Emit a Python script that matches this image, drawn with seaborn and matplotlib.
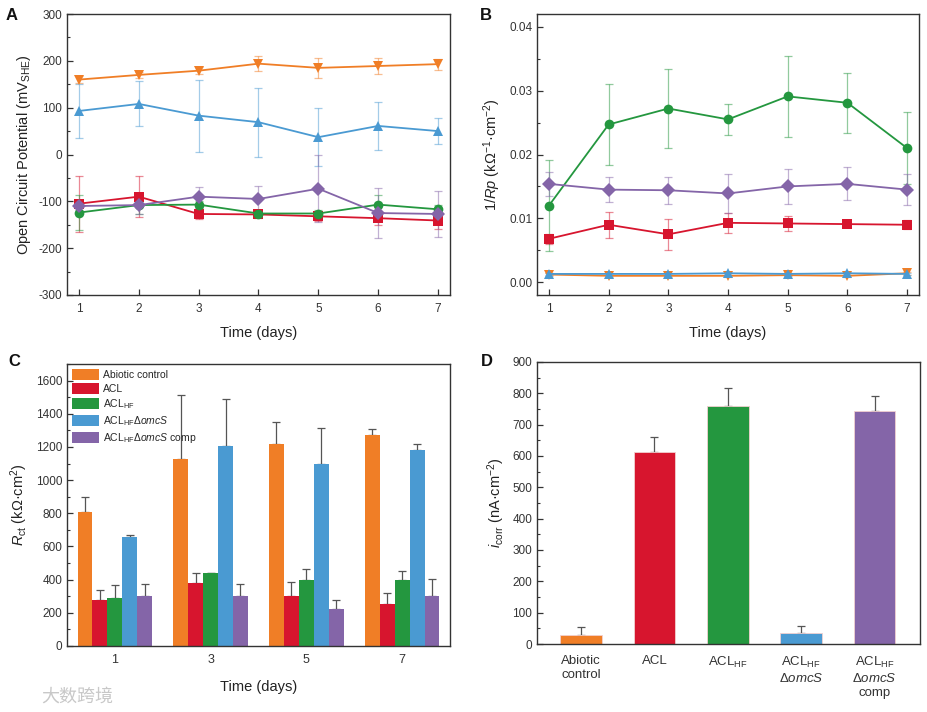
import numpy as np
import pandas as pd
import matplotlib
matplotlib.use("Agg")
import matplotlib.pyplot as plt
import seaborn as sns
from matplotlib.ticker import MultipleLocator
from matplotlib.patches import Patch

sns.set_theme(style="white")
plt.rcParams['font.family'] = ['Liberation Sans', 'DejaVu Sans']
plt.rcParams['mathtext.fontset'] = 'custom'
plt.rcParams['mathtext.rm'] = 'Liberation Sans'
plt.rcParams['mathtext.it'] = 'Liberation Sans:italic'
plt.rcParams['mathtext.bf'] = 'Liberation Sans:bold'
plt.rcParams['axes.unicode_minus'] = False

# ---------------- data ----------------
days = [1, 2, 3, 4, 5, 6, 7]
series = ["Abiotic control", "ACL", "ACL_HF", "ACL_HF_dOmcS", "ACL_HF_dOmcS_comp"]
colors = {"Abiotic control": "#F07E26", "ACL": "#D7152E", "ACL_HF": "#24973F",
          "ACL_HF_dOmcS": "#4A9AD2", "ACL_HF_dOmcS_comp": "#8465A8"}
markers = {"Abiotic control": "v", "ACL": "s", "ACL_HF": "o",
           "ACL_HF_dOmcS": "^", "ACL_HF_dOmcS_comp": "D"}

# Panel A: open circuit potential (mV SHE)
ocp_abiotic = [160, 170, 179, 194, 185, 189, 193]
ocp_abiotic_err = [8, 7, 8, 16, 21, 17, 12]
ocp_acl = [-105, -90, -127, -128, -132, -136, -141]
ocp_acl_err = [60, 44, 10, 8, 10, 15, 19]
ocp_aclhf = [-124, -108, -107, -126, -126, -107, -117]
ocp_aclhf_err = [38, 20, 8, 8, 8, 20, 10]
ocp_domcs = [93, 108, 83, 69, 37, 61, 50]
ocp_domcs_err = [58, 48, 77, 74, 62, 51, 28]
ocp_comp = [-110, -108, -90, -95, -73, -125, -127]
ocp_comp_err = [8, 20, 20, 28, 71, 53, 50]

# Panel B: 1/Rp (kOhm^-1 cm^-2)
rp_abiotic = [0.0012, 0.0010, 0.0010, 0.0010, 0.0011, 0.0010, 0.0014]
rp_abiotic_err = [0.0002, 0.0002, 0.0002, 0.0002, 0.0002, 0.0002, 0.0002]
rp_acl = [0.0068, 0.0090, 0.0075, 0.0093, 0.0092, 0.0091, 0.0090]
rp_acl_err = [0.0008, 0.0020, 0.0024, 0.0016, 0.0012, 0.0004, 0.0007]
rp_aclhf = [0.0120, 0.0247, 0.0272, 0.0255, 0.0291, 0.0281, 0.0210]
rp_aclhf_err = [0.0071, 0.0063, 0.0062, 0.0024, 0.0063, 0.0047, 0.0056]
rp_domcs = [0.0013, 0.0013, 0.0013, 0.0014, 0.0013, 0.0014, 0.0013]
rp_domcs_err = [0.0002, 0.0002, 0.0002, 0.0002, 0.0002, 0.0002, 0.0002]
rp_comp = [0.0154, 0.0145, 0.0144, 0.0139, 0.0150, 0.0154, 0.0145]
rp_comp_err = [0.0019, 0.0020, 0.0021, 0.0030, 0.0028, 0.0026, 0.0024]

# Panel C: Rct (kOhm cm^2)
rct_days = ["1", "3", "5", "7"]
rct_abiotic = [810, 1125, 1217, 1272]
rct_abiotic_err = [90, 387, 133, 36]
rct_acl = [280, 382, 303, 252]
rct_acl_err = [60, 60, 85, 70]
rct_aclhf = [288, 441, 397, 398]
rct_aclhf_err = [80, 2, 70, 52]
rct_domcs = [657, 1205, 1097, 1182]
rct_domcs_err = [15, 283, 218, 33]
rct_comp = [302, 300, 222, 303]
rct_comp_err = [70, 75, 56, 102]

# Panel D: i_corr (nA cm^-2)
icorr_labels = ["Abiotic\ncontrol", "ACL", "ACL$_{\\mathrm{HF}}$",
                "ACL$_{\\mathrm{HF}}$\nΔ$omcS$", "ACL$_{\\mathrm{HF}}$\nΔ$omcS$\ncomp"]
icorr_vals = [30, 613, 760, 34, 742]
icorr_err = [24, 48, 58, 22, 48]

legend_labels = ["Abiotic control", "ACL", "ACL$_{\\mathrm{HF}}$",
                 "ACL$_{\\mathrm{HF}}$Δ$omcS$", "ACL$_{\\mathrm{HF}}$Δ$omcS$ comp"]

# ---------------- figure ----------------
fig = plt.figure(figsize=(9.27, 7.12), dpi=100)
axA = fig.add_axes([0.0723, 0.5857, 0.4131, 0.3946])
axB = fig.add_axes([0.5793, 0.5857, 0.4121, 0.3946])
axC = fig.add_axes([0.0723, 0.0927, 0.4131, 0.3961])
axD = fig.add_axes([0.5793, 0.0955, 0.4132, 0.3961])

TICKC = "#333333"
LABC = "#222222"
def style_ax(ax):
    for s in ax.spines.values():
        s.set_color("#333333")
        s.set_linewidth(1.0)
        s.set_visible(True)
    ax.tick_params(axis='both', which='both', direction='in', colors=TICKC,
                   labelsize=8.5, top=False, right=False, left=True, bottom=True)
    ax.tick_params(which='major', length=4, width=0.9)
    ax.tick_params(which='minor', length=2.5, width=0.8)
    ax.grid(False)

def line_panel(ax, data, errs):
    rows = []
    for s in series:
        for d, v in zip(days, data[s]):
            rows.append({"day": d, "val": v, "series": s})
    df = pd.DataFrame(rows)
    for s in series:
        ax.errorbar(days, data[s], yerr=errs[s], fmt='none', ecolor=colors[s],
                    alpha=0.5, elinewidth=0.9, capsize=3, capthick=0.9, zorder=1)
    sns.lineplot(data=df, x="day", y="val", hue="series", style="series",
                 palette=colors, markers=markers, dashes=False, hue_order=series,
                 style_order=series, markersize=7, markeredgewidth=0,
                 linewidth=1.3, legend=False, ax=ax, errorbar=None, zorder=3)
    ax.set_xlim(0.8, 7.2)
    ax.set_xticks(days)
    ax.xaxis.set_minor_locator(plt.NullLocator())
    ax.set_xlabel("Time (days)", fontsize=10.5, color=LABC, labelpad=8)

# Panel A
line_panel(axA,
           {"Abiotic control": ocp_abiotic, "ACL": ocp_acl, "ACL_HF": ocp_aclhf,
            "ACL_HF_dOmcS": ocp_domcs, "ACL_HF_dOmcS_comp": ocp_comp},
           {"Abiotic control": ocp_abiotic_err, "ACL": ocp_acl_err, "ACL_HF": ocp_aclhf_err,
            "ACL_HF_dOmcS": ocp_domcs_err, "ACL_HF_dOmcS_comp": ocp_comp_err})
axA.set_ylim(-300, 300)
axA.yaxis.set_major_locator(MultipleLocator(100))
axA.yaxis.set_minor_locator(MultipleLocator(50))
axA.set_ylabel("Open Circuit Potential (mV$_{\\mathrm{SHE}}$)", fontsize=10.5, color=LABC)
style_ax(axA)
axA.tick_params(axis='x', pad=6)

# Panel B
line_panel(axB,
           {"Abiotic control": rp_abiotic, "ACL": rp_acl, "ACL_HF": rp_aclhf,
            "ACL_HF_dOmcS": rp_domcs, "ACL_HF_dOmcS_comp": rp_comp},
           {"Abiotic control": rp_abiotic_err, "ACL": rp_acl_err, "ACL_HF": rp_aclhf_err,
            "ACL_HF_dOmcS": rp_domcs_err, "ACL_HF_dOmcS_comp": rp_comp_err})
axB.set_ylim(-0.002, 0.042)
axB.yaxis.set_major_locator(MultipleLocator(0.01))
axB.yaxis.set_minor_locator(MultipleLocator(0.005))
axB.yaxis.set_major_formatter(matplotlib.ticker.FormatStrFormatter('%.2f'))
axB.set_ylabel("1/$Rp$ (kΩ$^{\\mathrm{-1}}$·cm$^{\\mathrm{-2}}$)", fontsize=10.5, color=LABC)
style_ax(axB)
axB.tick_params(axis='x', pad=6)

# Panel C
rows = []
rc = {"Abiotic control": rct_abiotic, "ACL": rct_acl, "ACL_HF": rct_aclhf,
      "ACL_HF_dOmcS": rct_domcs, "ACL_HF_dOmcS_comp": rct_comp}
rce = {"Abiotic control": rct_abiotic_err, "ACL": rct_acl_err, "ACL_HF": rct_aclhf_err,
       "ACL_HF_dOmcS": rct_domcs_err, "ACL_HF_dOmcS_comp": rct_comp_err}
for s in series:
    for d, v in zip(rct_days, rc[s]):
        rows.append({"day": d, "val": v, "series": s})
dfc = pd.DataFrame(rows)
sns.barplot(data=dfc, x="day", y="val", hue="series", hue_order=series, order=rct_days,
            palette=colors, saturation=1, width=0.78, errorbar=None, ax=axC,
            legend=False, linewidth=0)
for s, cont in zip(series, axC.containers):
    xs = [p.get_x() + p.get_width() / 2 for p in cont.patches]
    axC.errorbar(xs, rc[s], yerr=[np.zeros(len(xs)), rce[s]], fmt='none',
                 ecolor="#555555", elinewidth=0.9, capsize=3, capthick=0.9, zorder=0)
axC.set_xlim(-0.5, 3.5)
axC.set_ylim(0, 1700)
axC.yaxis.set_major_locator(MultipleLocator(200))
axC.yaxis.set_minor_locator(MultipleLocator(100))
axC.set_xlabel("Time (days)", fontsize=10.5, color=LABC, labelpad=10)
axC.set_ylabel("$R_{\\mathrm{ct}}$ (kΩ·cm$^{2}$)", fontsize=10.5, color=LABC)
style_ax(axC)
axC.tick_params(axis='x', which='both', length=0, pad=6, labelsize=9)
handles = [Patch(facecolor=colors[s], edgecolor='none') for s in series]
axC.legend(handles, legend_labels, loc='upper left', frameon=False, fontsize=7.5,
           handlelength=2.6, handleheight=1.25, labelspacing=0.3,
           handletextpad=0.4, borderaxespad=0.3, borderpad=0.2)

# Panel D
dfd = pd.DataFrame({"group": icorr_labels, "val": icorr_vals})
pal_d = dict(zip(icorr_labels, [colors[s] for s in series]))
sns.barplot(data=dfd, x="group", y="val", hue="group", order=icorr_labels,
            palette=pal_d, saturation=1, width=0.57, errorbar=None, ax=axD,
            legend=False, edgecolor="#F2D0D0", linewidth=0.6)
xsd = []
for cont in axD.containers:
    for p in cont.patches:
        xsd.append(p.get_x() + p.get_width() / 2)
axD.errorbar(xsd, icorr_vals, yerr=[np.zeros(len(xsd)), icorr_err], fmt='none',
             ecolor="#555555", elinewidth=0.9, capsize=3, capthick=0.9, zorder=0)
axD.set_xlim(-0.6, 4.62)
axD.set_ylim(0, 900)
axD.yaxis.set_major_locator(MultipleLocator(100))
axD.yaxis.set_minor_locator(MultipleLocator(50))
axD.set_xlabel("")
axD.set_ylabel("$i_{\\mathrm{corr}}$ (nA·cm$^{\\mathrm{-2}}$)", fontsize=10.5, color=LABC)
style_ax(axD)
axD.tick_params(axis='x', which='both', length=0, pad=8, labelsize=9.5)

# panel letters
for lab, (px, py) in {"A": (12, 15), "B": (486, 15), "C": (14, 361), "D": (487, 362)}.items():
    fig.text(px / 927, 1 - py / 712, lab, fontsize=12, fontweight='bold',
             ha='center', va='center', color="#111111")

# watermark
fig.text(0.045, 0.022, "大数跨境", fontsize=13, color="#C8C8C8",
         family=['Noto Sans CJK SC', 'DejaVu Sans'], ha='left', va='center')

fig.savefig("out.png", dpi=100)
